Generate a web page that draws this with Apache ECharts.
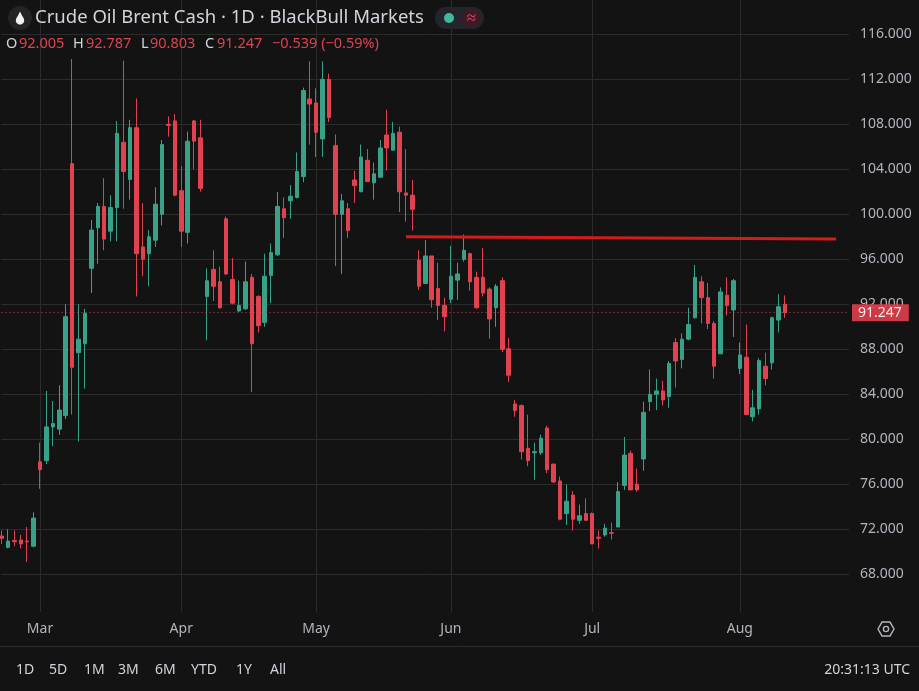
<!DOCTYPE html>
<html><head><meta charset="utf-8">
<script src="https://cdn.jsdelivr.net/npm/echarts@6/dist/echarts.min.js"></script>
<style>html,body{margin:0;padding:0;background:#131313;}#c{width:919px;height:691px;}</style>
</head><body><div id="c"></div>
<script>
// Daily OHLC values
const opens = [71.4,70.4,71.0,71.05,70.95,70.5,
78.0,78.1,81.1,80.9,82.1,104.5,87.7,88.5,95.2,98.8,100.7,98.5,100.6,106.4,103.1,107.7,97.1,96.5,97.7,100.0,108.0,108.3,
102.1,98.4,108.3,106.8,92.7,95.1,94.0,99.6,94.2,91.4,91.6,94.4,92.7,90.4,94.55,96.4,100.5,101.2,101.5,103.35,110.25,
109.9,106.7,112.0,106.1,100.0,100.5,103.05,102.0,104.8,102.8,103.3,107.05,105.7,107.3,101.9,101.7,95.94,93.86,96.3,93.4,91.9,
92.45,94.15,96.0,96.5,94.4,94.4,93.35,91.7,94.1,88.05,83.14,83.0,79.2,78.8,78.8,81.0,77.8,76.3,73.4,75.05,72.8,73.4,
73.4,71.3,71.5,71.7,72.2,75.9,78.75,76.0,78.25,83.35,84.0,84.3,83.8,88.6,87.1,88.9,90.8,94.0,92.6,90.3,87.6,92.8,91.5,
86.3,87.3,82.0,82.7,86.5,86.8,90.6,92.005];
const highs = [71.9,72.0,71.9,71.5,72.2,73.5,
79.7,84.3,83.4,84.8,92.0,113.8,92.0,91.6,99.5,101.0,103.2,101.7,108.3,113.65,108.4,110.3,101.0,98.6,102.4,106.6,108.7,108.9,
104.3,107.35,108.4,108.4,95.2,96.8,95.35,99.8,96.1,94.1,95.8,94.7,92.8,96.5,97.4,102.0,101.5,102.6,105.5,111.26,113.6,
111.2,113.6,112.5,107.1,101.8,101.0,103.85,106.2,105.8,104.6,106.6,109.3,108.2,107.8,105.8,103.05,96.8,97.7,96.3,95.7,92.6,
97.2,95.7,98.2,96.6,94.9,97.0,93.5,93.8,94.4,89.0,83.5,83.1,82.2,79.7,80.4,81.2,77.8,76.7,76.0,75.4,74.2,74.75,
73.5,71.9,72.5,72.6,76.2,80.2,79.0,77.4,83.35,86.2,85.4,85.2,86.96,89.0,89.4,91.7,95.5,94.5,93.9,90.5,93.5,94.4,94.25,
88.6,90.2,84.4,87.2,87.7,90.9,92.9,92.787];
const lows = [70.7,70.3,70.5,70.3,69.1,70.4,
75.6,77.8,79.4,80.4,81.8,82.2,79.8,84.5,93.0,95.6,96.8,97.6,97.6,100.5,101.3,92.7,94.5,93.6,97.1,99.0,106.9,101.6,
97.1,97.4,104.0,102.0,88.8,92.3,91.6,94.6,92.0,91.35,91.5,84.2,89.5,90.0,92.1,96.3,97.9,99.6,101.4,102.85,106.2,
105.1,105.1,108.2,95.4,94.7,97.9,101.0,102.0,102.9,101.3,103.25,103.9,105.7,100.2,99.35,98.55,93.3,93.8,91.7,90.6,89.6,
92.1,92.4,95.8,93.2,91.6,92.7,88.95,90.0,87.75,85.1,82.0,78.2,77.6,76.4,78.6,77.0,76.15,72.8,72.4,71.9,72.5,72.75,
70.7,70.3,71.35,71.1,72.2,75.5,75.5,75.35,77.2,82.5,82.6,83.0,82.8,84.6,86.3,88.8,90.75,90.3,89.8,85.4,87.6,91.0,89.1,
85.8,82.2,81.6,82.2,84.8,86.2,89.5,90.803];
const closes = [71.2,70.95,70.9,70.7,70.9,73.0,
77.3,81.1,81.4,82.6,90.9,86.4,88.9,91.2,98.6,100.7,97.8,100.6,107.2,103.8,107.7,96.5,96.0,98.0,100.9,106.2,107.9,101.7,
98.5,106.5,106.5,102.3,94.1,93.6,91.7,94.7,92.1,91.9,94.0,88.5,90.1,94.5,96.6,100.7,99.7,101.6,103.8,111.0,109.8,
107.3,112.0,108.6,100.0,101.2,98.55,102.55,105.1,102.9,103.6,105.9,105.9,107.2,102.0,101.7,100.45,93.6,96.3,92.4,91.9,90.9,
94.5,94.7,96.8,94.0,91.7,93.0,90.7,93.6,88.0,85.7,82.55,78.9,78.1,78.9,80.1,77.3,76.2,72.9,74.5,72.9,73.2,72.8,
70.7,71.2,72.1,71.65,75.35,78.6,75.5,75.5,82.4,84.0,84.3,83.5,86.75,86.96,88.9,90.2,94.4,92.6,90.3,86.5,93.1,91.9,94.1,
87.5,82.2,82.8,87.0,85.4,90.8,91.786,91.247];
// first trading day index of each month -> label
const monthStarts = {6:'Mar', 28:'Apr', 49:'May', 70:'Jun', 92:'Jul', 115:'Aug'};
const emptySlots = 10;
const yMin = 64, yMax = 120, yStep = 4;
const resistanceLine = [[63, 98.0], [130, 97.8]];
const rangeButtons = ['1D','5D','1M','3M','6M','YTD','1Y','All'];
const titleText = 'Crude Oil Brent Cash · 1D · BlackBull Markets';
const clockText = '20:31:13 UTC';

const categories = [];
for (let i = 0; i < opens.length + emptySlots; i++) categories.push(String(i));
const candles = opens.map((o, i) => [o, closes[i], lows[i], highs[i]]);
const last = opens.length - 1;
const lastClose = closes[last];
const prevClose = closes[last - 1];
const chg = lastClose - prevClose;

const FONT = 'Noto Sans';
const UP = '#3aa189', DOWN = '#e0434f', GRID = '#2c2c2c', AXT = '#b2b5be', BG = '#131313';

const chart = echarts.init(document.getElementById('c'));
const fmt = v => v.toFixed(3);

// header OHLC pieces
const ohlcX = [6, 19, 73, 86, 141, 150, 205, 217, 272];
const ohlcTexts = ['O', fmt(opens[last]), 'H', fmt(highs[last]), 'L', fmt(lows[last]), 'C', fmt(lastClose),
  (chg < 0 ? '\u2212' : '+') + Math.abs(chg).toFixed(3) + ' (' + (chg < 0 ? '\u2212' : '+') + Math.abs(chg / prevClose * 100).toFixed(2) + '%)'];
const btnX = [16, 49, 84, 118, 155, 191, 236, 270];

// droplet outline (icon)
const drop = [];
for (let k = 0; k <= 24; k++) {
  const a = Math.PI * k / 24;
  drop.push([20 + 4.2 * Math.cos(a), 20.4 + 4.2 * Math.sin(a)]);
}
drop.push([16.2, 18.6], [18.2, 15.2], [20, 11.6], [21.8, 15.2], [23.8, 18.6]);

const graphics = [
  {type:'rect', shape:{x:0, y:612, width:919, height:10}, style:{fill:BG}, z:50},
  {type:'line', shape:{x1:0, y1:646.5, x2:919, y2:646.5}, style:{stroke:GRID, lineWidth:1}, z:50},
  {type:'circle', shape:{cx:20, cy:18, r:12}, style:{fill:'#242424'}, z:60},
  {type:'polygon', shape:{points:drop, smooth:0}, style:{fill:'#f2f2f2'}, z:61},
  {type:'text', x:35, y:18, style:{text:titleText, fill:'#d1d4dc', fontSize:18.5, fontFamily:FONT, verticalAlign:'middle'}, z:60},
  {type:'rect', shape:{x:435, y:7, width:49, height:22, r:11}, style:{fill:'#22262c'}, z:60},
  {type:'circle', shape:{cx:449, cy:18, r:5}, style:{fill:'#42b89c'}, z:61},
  {type:'rect', shape:{x:461, y:9, width:21, height:18, r:9}, style:{fill:'#3b1c26'}, z:61},
  {type:'text', x:471.5, y:18, style:{text:'\u2248', fill:'#e0496a', fontSize:17, fontFamily:FONT, align:'center', verticalAlign:'middle'}, z:62},
  {type:'polygon', shape:{points:[0,1,2,3,4,5].map(k => [886 + 8*Math.cos(k*Math.PI/3), 629 + 8*Math.sin(k*Math.PI/3)])}, style:{fill:'none', stroke:AXT, lineWidth:1.4}, z:60},
  {type:'circle', shape:{cx:886, cy:629, r:2.6}, style:{fill:'none', stroke:AXT, lineWidth:1.4}, z:60},
  {type:'text', x:910, y:670, style:{text:clockText, fill:'#d1d4dc', fontSize:14, fontFamily:FONT, align:'right', verticalAlign:'middle'}, z:60}
];
ohlcTexts.forEach((t, k) => {
  graphics.push({type:'text', x:ohlcX[k], y:44, style:{text:t, fill:(k % 2 === 0 && k < 8) ? '#d1d4dc' : DOWN, fontSize:14.5, fontFamily:FONT, verticalAlign:'middle'}, z:60});
});
rangeButtons.forEach((t, k) => {
  graphics.push({type:'text', x:btnX[k], y:670, style:{text:t, fill:'#d1d4dc', fontSize:14, fontFamily:FONT, verticalAlign:'middle'}, z:60});
});

const resistStyle = {color:'#d41c1c', width:3, type:'solid'};

chart.setOption({
  backgroundColor: BG,
  animation: false,
  grid: {left:1.5, right:70, top:-10.7, height:630, containLabel:false, outerBoundsMode:'none'},
  xAxis: {
    type:'category', data:categories, boundaryGap:false,
    axisLine:{show:false}, axisTick:{show:false},
    axisLabel:{interval:(i) => (i in monthStarts), formatter:(v, i) => monthStarts[i] || '', color:AXT, fontSize:14, fontFamily:FONT, margin:3},
    splitLine:{show:true, interval:(i) => (i in monthStarts), lineStyle:{color:GRID, width:1}}
  },
  yAxis: {
    type:'value', position:'right', min:yMin, max:yMax, interval:yStep,
    axisLine:{show:false}, axisTick:{show:false},
    axisLabel:{color:AXT, fontSize:14, fontFamily:FONT, margin:11, formatter:v => (v < 66 || v > 118) ? '' : v.toFixed(3)},
    splitLine:{show:true, lineStyle:{color:GRID, width:1}}
  },
  series: [{
    type:'candlestick', data:candles, barWidth:4,
    itemStyle:{color:UP, color0:DOWN, borderColor:UP, borderColor0:DOWN, borderWidth:1},
    markLine:{
      silent:true, symbol:['none','none'], animation:false,
      data:[
        {yAxis:lastClose, lineStyle:{type:[1,3], color:DOWN, width:1, opacity:0.9},
         label:{show:true, position:'end', distance:3, formatter:fmt(lastClose), color:'#ffffff', backgroundColor:'#e03f4c', padding:[2,7,1,6], fontSize:14, fontFamily:FONT}},
        [{coord:resistanceLine[0], lineStyle:resistStyle, label:{show:false}}, {coord:resistanceLine[1]}]
      ]
    }
  }],
  graphic: graphics
});
</script></body></html>
